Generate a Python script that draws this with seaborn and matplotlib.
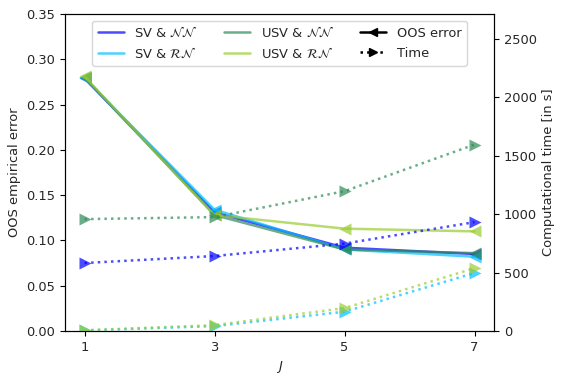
import matplotlib
matplotlib.use("Agg")
import matplotlib.pyplot as plt
from matplotlib.lines import Line2D
import seaborn as sns
import pandas as pd

sns.set_style("ticks")
plt.rcParams['font.family'] = ['DejaVu Sans']
FS = 9.4
plt.rcParams['font.size'] = FS

J = [1, 3, 5, 7]
methods = ["SV & NN", "SV & RN", "USV & NN", "USV & RN"]
labels = [r"SV & $\mathcal{N}\mathcal{N}$", r"SV & $\mathcal{R}\mathcal{N}$",
          r"USV & $\mathcal{N}\mathcal{N}$", r"USV & $\mathcal{R}\mathcal{N}$"]
colors = ["blue", "deepskyblue", "seagreen", "yellowgreen"]

oos_sv_nn = [0.279, 0.131, 0.092, 0.085]
oos_sv_rn = [0.279, 0.134, 0.090, 0.082]
oos_usv_nn = [0.280, 0.128, 0.090, 0.086]
oos_usv_rn = [0.281, 0.128, 0.113, 0.110]

time_sv_nn = [582, 642, 748, 932]
time_sv_rn = [5, 42, 165, 497]
time_usv_nn = [958, 975, 1197, 1596]
time_usv_rn = [6, 50, 196, 538]

oos = [oos_sv_nn, oos_sv_rn, oos_usv_nn, oos_usv_rn]
times = [time_sv_nn, time_sv_rn, time_usv_nn, time_usv_rn]

DPI = 100
fig = plt.figure(figsize=(564 / DPI, 377 / DPI), dpi=DPI)
ax = fig.add_axes([65 / 564, 1 - 331 / 377, 429 / 564, 317 / 377])
ax2 = ax.twinx()

for m, c, e, t in zip(methods, colors, oos, times):
    df = pd.DataFrame({"J": J, "err": e, "time": t})
    sns.lineplot(data=df, x="J", y="err", ax=ax, color=c, alpha=0.7, lw=1.8,
                 marker="<", markersize=8, markeredgecolor="none")
    sns.lineplot(data=df, x="J", y="time", ax=ax2, color=c, alpha=0.7, lw=1.8,
                 linestyle=":", marker=">", markersize=8, markeredgecolor="none")

ax.set_xlim(0.7, 7.3)
ax.set_ylim(0, 0.35)
ax2.set_ylim(0, 2714)
ax.set_xticks([1, 3, 5, 7])
yt = [0, 0.05, 0.10, 0.15, 0.20, 0.25, 0.30, 0.35]
ax.set_yticks(yt)
ax.set_yticklabels([f"{v:.2f}" for v in yt])
ax2.set_yticks([0, 500, 1000, 1500, 2000, 2500])
ax.set_xlabel(r"$J$", fontsize=FS)
ax.set_ylabel("OOS empirical error", fontsize=FS)
ax2.set_ylabel("Computational time [in s]", fontsize=FS)
for a in (ax, ax2):
    a.tick_params(labelsize=FS, length=3.5, width=0.8, color="black")
    for s in a.spines.values():
        s.set_visible(True)
        s.set_color("black")
        s.set_linewidth(0.8)

handles = [Line2D([], [], color=c, alpha=0.7, lw=1.8) for c in colors]
handles += [Line2D([], [], color="black", lw=1.8, marker="<", markersize=6),
            Line2D([], [], color="black", lw=1.8, ls=":", marker=">", markersize=6)]
hl = labels + ["OOS error", "Time"]
ax.legend(handles, hl, ncol=3, loc="upper center", bbox_to_anchor=(0.5, 1.0),
          frameon=True, fontsize=FS)

fig.savefig("out.png", dpi=DPI)
